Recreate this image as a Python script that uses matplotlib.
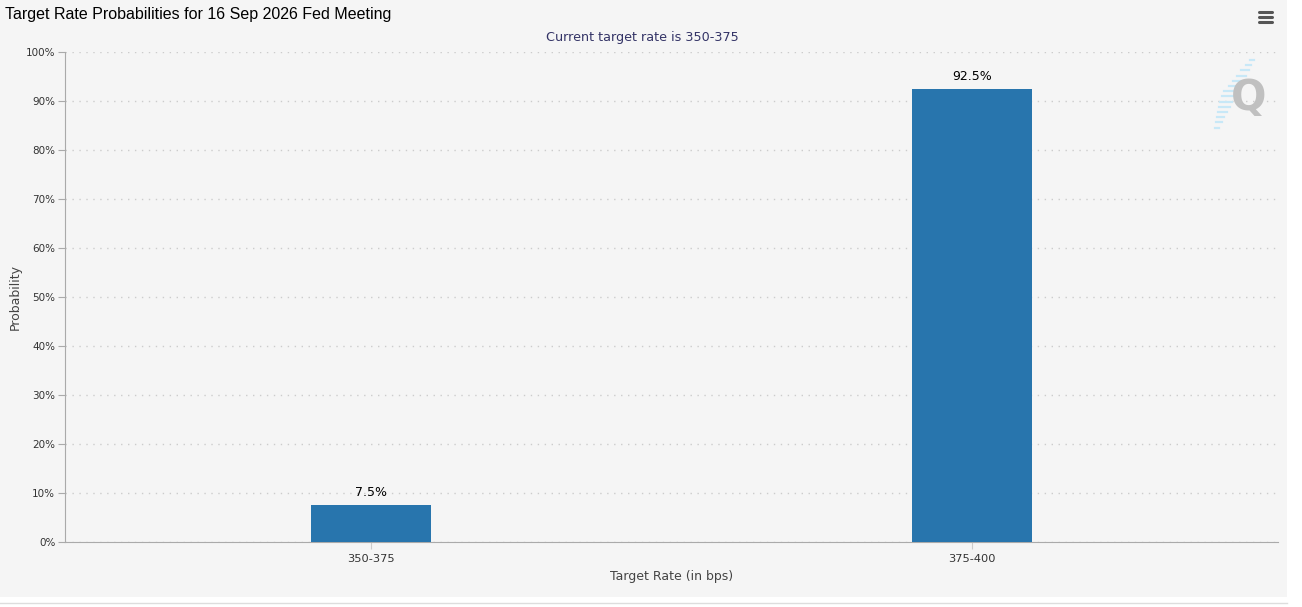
import matplotlib
matplotlib.use("Agg")
import matplotlib.pyplot as plt
from matplotlib.patches import Rectangle
from matplotlib.lines import Line2D

categories = ["350-375", "375-400"]
probabilities = [7.5, 92.5]
value_labels = ["7.5%", "92.5%"]
yticks = [0, 10, 20, 30, 40, 50, 60, 70, 80, 90, 100]
ytick_labels = [f"{v}%" for v in yticks]

W, H = 1302, 607
fig = plt.figure(figsize=(W / 100, H / 100), dpi=100)
fig.patch.set_facecolor("white")

# chart background panel
fig.add_artist(Rectangle((0, 1 - 597 / H), 1287 / W, 597 / H, transform=fig.transFigure,
                         facecolor="#f5f5f5", edgecolor="none", zorder=0))
fig.add_artist(Line2D([0, 1287 / W], [1 - 603 / H, 1 - 603 / H], transform=fig.transFigure,
                      color="#dddddd", lw=1))

ax = fig.add_axes([65 / W, 1 - 542 / H, (1278 - 65) / W, (542 - 52) / H])
ax.set_facecolor("none")

x = list(range(len(categories)))
ax.bar(x, probabilities, width=0.2, color="#2875ad", zorder=3)
for xi, v, lab in zip(x, probabilities, value_labels):
    ax.text(xi, v + 1.2, lab, ha="center", va="bottom", fontsize=9, color="#000000",
            family="DejaVu Sans")

ax.set_xlim(-0.509, 1.509)
ax.set_ylim(0, 100)
ax.set_yticks(yticks)
ax.set_yticklabels(ytick_labels)
ax.set_xticks(x)
ax.set_xticklabels(categories)
ax.tick_params(axis="y", length=5, width=0.8, color="#aaaaaa", labelsize=7.5, labelcolor="#333333", pad=2)
ax.tick_params(axis="x", length=5, width=0.8, color="#cccccc", labelsize=8.2, labelcolor="#333333", pad=4)
for lab in ax.get_xticklabels() + ax.get_yticklabels():
    lab.set_family("DejaVu Sans")

ax.grid(axis="y", linestyle=(0, (1, 4)), color="#cccccc", lw=1, zorder=0)
for s in ["top", "right"]:
    ax.spines[s].set_visible(False)
ax.spines["left"].set_color("#aaaaaa")
ax.spines["bottom"].set_color("#aaaaaa")

ax.set_xlabel("Target Rate (in bps)", fontsize=9, color="#444444", labelpad=4, family="DejaVu Sans")
ax.set_ylabel("Probability", fontsize=9, color="#444444", labelpad=3, family="DejaVu Sans")

fig.text(5 / W, 1 - 15 / H, "Target Rate Probabilities for 16 Sep 2026 Fed Meeting",
         fontsize=11.5, family="Liberation Sans", color="#000000", ha="left", va="center")
fig.text(642 / W, 1 - 38 / H, "Current target rate is 350-375", fontsize=9.2,
         color="#333366", ha="center", va="center", family="DejaVu Sans")

# hamburger menu
for yy in (12, 17, 22):
    fig.add_artist(Line2D([1259 / W, 1272 / W], [1 - yy / H, 1 - yy / H], transform=fig.transFigure,
                          color="#555555", lw=2.2, solid_capstyle="round"))

# watermark
for i in range(14):
    yy = 60 + i * 5.2
    xx = 1254 - i * 2.7
    ln = 4 + min(i, 13 - i) * 1.6
    fig.add_artist(Line2D([(xx - ln) / W, xx / W], [1 - yy / H, 1 - yy / H], transform=fig.transFigure,
                          color="#c8e8f7", lw=1.6))
fig.text(1249 / W, 1 - 98 / H, "Q", fontsize=30, color="#c0c0c0", ha="center", va="center",
         family="DejaVu Sans", fontweight="bold")

fig.savefig("out.png", dpi=100, facecolor=fig.get_facecolor())
